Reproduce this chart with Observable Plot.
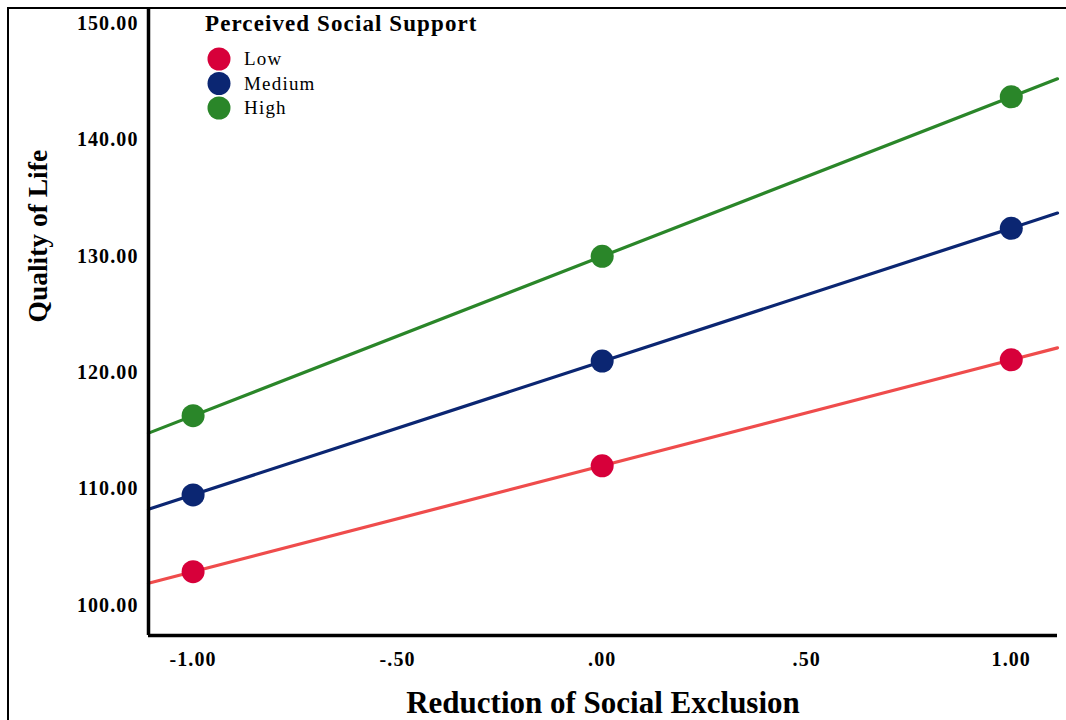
<!DOCTYPE html>
<html>
<head>
<meta charset="utf-8">
<script src="https://cdn.jsdelivr.net/npm/d3@7"></script>
<script src="https://cdn.jsdelivr.net/npm/@observablehq/plot@0.6"></script>
<style>
  html, body { margin: 0; padding: 0; background: #fff; }
  #wrap { position: relative; width: 1066px; height: 720px; overflow: hidden; background: #fff; }
  #frame-left { position: absolute; left: 7px; top: 7px; width: 2px; height: 713px; background: #000; }
  #frame-top { position: absolute; left: 7px; top: 7px; width: 1059px; height: 2px; background: #000; }
  #legend { position: absolute; left: 0; top: 0; }
  svg { font-family: "Liberation Serif", "DejaVu Serif", serif; }
  .tick-lbl text { font-weight: bold; }
</style>
</head>
<body>
<div id="wrap">
  <div id="chart"></div>
  <div id="frame-left"></div>
  <div id="frame-top"></div>
  <svg id="legend" width="520" height="130"></svg>
</div>
<script>
// ---- data ----
const xLevels = [-1, 0, 1];
const groups = ["Low", "Medium", "High"];
const lowValues = [102.9, 112.0, 121.1];
const mediumValues = [109.5, 121.0, 132.4];
const highValues = [116.3, 130.0, 143.7];
const dotColors = ["#d7003a", "#0b2672", "#2a8629"];
const lineColors = ["#ef4c4c", "#0b2672", "#2a8629"];
const yTicks = [100, 110, 120, 130, 140, 150];
const xTicks = [-1, -0.5, 0, 0.5, 1];
const xTickLabels = ["-1.00", "-.50", ".00", ".50", "1.00"];
const yTickLabels = ["100.00", "110.00", "120.00", "130.00", "140.00", "150.00"];
const xTitle = "Reduction of Social Exclusion";
const yTitle = "Quality of Life";
const legendTitle = "Perceived Social Support";

const xDomain = [-1.109, 1.113];
const yDomain = [97.42, 151.2];

// ---- derived tables ----
const seriesValues = [lowValues, mediumValues, highValues];
const points = [];
groups.forEach((g, i) => xLevels.forEach((x, j) => points.push({group: g, x, y: seriesValues[i][j]})));

// least-squares fit line per group, evaluated at x-domain ends
const lines = [];
groups.forEach((g, i) => {
  const ys = seriesValues[i];
  const mx = d3.mean(xLevels), my = d3.mean(ys);
  const slope = d3.sum(xLevels, (x, k) => (x - mx) * (ys[k] - my)) / d3.sum(xLevels, x => (x - mx) ** 2);
  const intercept = my - slope * mx;
  xDomain.forEach(x => lines.push({group: g, x, y: intercept + slope * x}));
});

const chart = Plot.plot({
  width: 1066,
  height: 720,
  marginLeft: 148,
  marginRight: 9,
  marginTop: 9,
  marginBottom: 85,
  style: {fontFamily: '"Liberation Serif", serif', background: "transparent"},
  x: {domain: xDomain},
  y: {domain: yDomain},
  color: {domain: groups, range: dotColors},
  marks: [
    Plot.axisY({ticks: yTicks, tickSize: 0, tickPadding: 10, label: null,
      tickFormat: d => yTickLabels[yTicks.indexOf(d)], fontSize: 20, className: "tick-lbl"}),
    Plot.axisX({ticks: xTicks, tickSize: 0, tickPadding: 16, label: null,
      tickFormat: d => xTickLabels[xTicks.indexOf(d)], fontSize: 20, className: "tick-lbl"}),
    Plot.line(lines, {x: "x", y: "y", z: "group",
      stroke: d => lineColors[groups.indexOf(d.group)], strokeWidth: 3.2}),
    Plot.dot(points, {x: "x", y: "y", r: 11.5,
      fill: d => dotColors[groups.indexOf(d.group)], stroke: "none"}),
    Plot.ruleX([xDomain[0]], {stroke: "#000", strokeWidth: 3.5}),
    Plot.ruleY([yDomain[0]], {stroke: "#000", strokeWidth: 3.5}),
    Plot.text([xTitle], {frameAnchor: "bottom", dy: 68, fontSize: 31, fontWeight: "bold", fill: "#000", lineAnchor: "middle"}),
    Plot.text([yTitle], {frameAnchor: "left", dx: -110, rotate: -90, fontSize: 27.5, fontWeight: "bold", fill: "#000", lineAnchor: "middle"})
  ]
});
chart.querySelectorAll(".tick-lbl text").forEach(t => { t.style.letterSpacing = "1.1px"; t.setAttribute("fill", "#000"); });
document.getElementById("chart").appendChild(chart);

// ---- legend ----
const lg = d3.select("#legend").style("font-family", '"Liberation Serif", serif');
lg.append("text").attr("x", 205).attr("y", 26).attr("dominant-baseline", "middle")
  .attr("font-size", 23).attr("font-weight", "bold").style("letter-spacing", "1.1px").text(legendTitle);
groups.forEach((g, i) => {
  lg.append("circle").attr("cx", 219).attr("cy", 59 + i * 24.5).attr("r", 11.5).attr("fill", dotColors[i]);
  lg.append("text").attr("x", 244).attr("y", 61 + i * 24.5).attr("dominant-baseline", "middle")
    .attr("font-size", 19).style("letter-spacing", "1.2px").text(g);
});
</script>
</body>
</html>
